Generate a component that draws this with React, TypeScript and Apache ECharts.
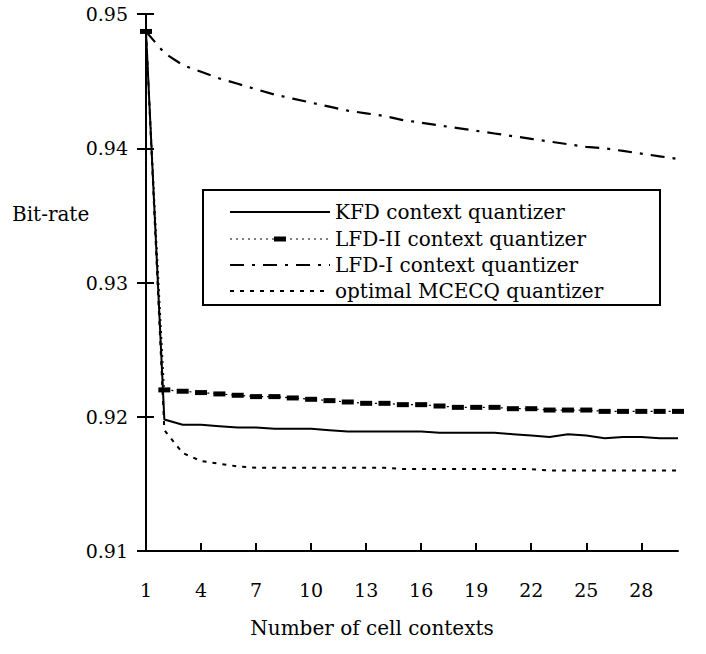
import React, { useEffect, useRef } from "react";
import * as echarts from "echarts";

const categories = Array.from({ length: 30 }, (_, i) => String(i + 1));

const kfd = [0.9487, 0.9198, 0.9194, 0.9194, 0.9193, 0.9192, 0.9192, 0.9191, 0.9191, 0.9191,
  0.9190, 0.9189, 0.9189, 0.9189, 0.9189, 0.9189, 0.9188, 0.9188, 0.9188, 0.9188,
  0.9187, 0.9186, 0.9185, 0.9187, 0.9186, 0.9184, 0.9185, 0.9185, 0.9184, 0.9184];

const lfd2 = [0.9487, 0.9220, 0.9219, 0.9218, 0.9217, 0.9216, 0.9215, 0.9215, 0.9214, 0.9213,
  0.9212, 0.9211, 0.9210, 0.9210, 0.9209, 0.9209, 0.9208, 0.9207, 0.9207, 0.9207,
  0.9206, 0.9206, 0.9205, 0.9205, 0.9205, 0.9204, 0.9204, 0.9204, 0.9204, 0.9204];

const lfd1 = [0.9487, 0.9471, 0.9462, 0.9457, 0.9452, 0.9448, 0.9444, 0.9440, 0.9437, 0.9434,
  0.9431, 0.9428, 0.9426, 0.9424, 0.9421, 0.9419, 0.9417, 0.9415, 0.9413, 0.9411,
  0.9409, 0.9407, 0.9405, 0.9403, 0.9401, 0.9400, 0.9398, 0.9396, 0.9394, 0.9392];

const mcecq = [0.9487, 0.9190, 0.9173, 0.9167, 0.9165, 0.9163, 0.9162, 0.9162, 0.9162, 0.9162,
  0.9162, 0.9162, 0.9162, 0.9162, 0.9161, 0.9161, 0.9161, 0.9161, 0.9161, 0.9161,
  0.9161, 0.9161, 0.9160, 0.9160, 0.9160, 0.9160, 0.9160, 0.9160, 0.9160, 0.9160];

const seriesNames = [
  "KFD context quantizer",
  "LFD-II context quantizer",
  "LFD-I context quantizer",
  "optimal MCECQ quantizer",
];

const yTicks = { min: 0.91, max: 0.95, interval: 0.01 };
const yName = "Bit-rate";
const xName = "Number of cell contexts";

const FONT = "DejaVu Serif";

export default function App() {
  const ref = useRef<HTMLDivElement>(null);
  useEffect(() => {
    document.body.style.margin = "0";
    const chart = echarts.init(ref.current!, null, { renderer: "svg" });
    const legendX = 230;
    const legendW = 100;
    const rowY = [212, 239, 265, 291];
    const dashes: any[] = [null, [2, 4], [14, 8, 3, 8], [4, 6]];
    const widths = [2, 1.2, 2.2, 2];
    const legendEls: any[] = [
      {
        type: "rect",
        shape: { x: 203, y: 190, width: 457, height: 115 },
        style: { fill: "#fff", stroke: "#000", lineWidth: 2 },
        z: 100,
      },
    ];
    seriesNames.forEach((n, i) => {
      legendEls.push({
        type: "line",
        shape: { x1: legendX, y1: rowY[i], x2: legendX + legendW, y2: rowY[i] },
        style: { stroke: "#000", lineWidth: widths[i], lineDash: dashes[i] || undefined },
        z: 101,
      });
      if (i === 1) {
        legendEls.push({
          type: "rect",
          shape: { x: legendX + 44, y: rowY[i] - 2.5, width: 12, height: 5 },
          style: { fill: "#000" },
          z: 102,
        });
      }
      legendEls.push({
        type: "text",
        style: {
          x: 335,
          y: rowY[i],
          text: n,
          font: `20px ${FONT}`,
          fill: "#000",
          verticalAlign: "middle",
          align: "left",
        },
        z: 101,
      });
    });

    const option: any = {
      animation: false,
      backgroundColor: "#fff",
      grid: { left: 146, right: 28, top: 14, bottom: 103, containLabel: false },
      xAxis: {
        type: "category",
        data: categories,
        boundaryGap: false,
        axisLine: { lineStyle: { color: "#000", width: 2 } },
        axisTick: { interval: 2, inside: true, length: 8, lineStyle: { color: "#000", width: 2 } },
        axisLabel: { interval: 2, margin: 29, color: "#000", fontFamily: FONT, fontSize: 19 },
        splitLine: { show: false },
      },
      yAxis: [
        {
          type: "value",
          ...yTicks,
          axisLine: { show: true, lineStyle: { color: "#000", width: 2 } },
          axisTick: { show: true, inside: false, length: 9, lineStyle: { color: "#000", width: 2 } },
          axisLabel: {
            margin: 18,
            color: "#000",
            fontFamily: FONT,
            fontSize: 19,
            formatter: (v: number) => v.toFixed(2),
          },
          splitLine: { show: false },
        },
        {
          type: "value",
          ...yTicks,
          position: "left",
          axisLine: { show: false },
          axisTick: { show: true, inside: true, length: 8, lineStyle: { color: "#000", width: 2 } },
          axisLabel: { show: false },
          splitLine: { show: false },
        },
      ],
      series: [
        {
          name: seriesNames[0],
          type: "line",
          data: kfd,
          symbol: "none",
          lineStyle: { color: "#000", width: 2, type: "solid" },
          z: 3,
        },
        {
          name: seriesNames[1],
          type: "line",
          data: lfd2,
          symbol: "rect",
          symbolSize: [12, 5],
          showSymbol: true,
          showAllSymbol: true,
          itemStyle: { color: "#000" },
          lineStyle: { color: "#000", width: 1.2, type: [2, 4] },
          z: 3,
        },
        {
          name: seriesNames[2],
          type: "line",
          data: lfd1,
          symbol: "none",
          lineStyle: { color: "#000", width: 2.2, type: [14, 8, 3, 8] },
          z: 3,
        },
        {
          name: seriesNames[3],
          type: "line",
          data: mcecq,
          symbol: "none",
          lineStyle: { color: "#000", width: 2, type: [4, 6] },
          z: 3,
        },
      ],
      graphic: [
        {
          type: "text",
          style: { x: 12, y: 214, text: yName, font: `20px ${FONT}`, fill: "#000", verticalAlign: "middle" },
        },
        {
          type: "text",
          style: { x: 372, y: 628, text: xName, font: `20px ${FONT}`, fill: "#000", verticalAlign: "middle", align: "center" },
        },
        ...legendEls,
      ],
    };
    chart.setOption(option);
    return () => chart.dispose();
  }, []);
  return <div ref={ref} style={{ width: 706, height: 654 }} />;
}
